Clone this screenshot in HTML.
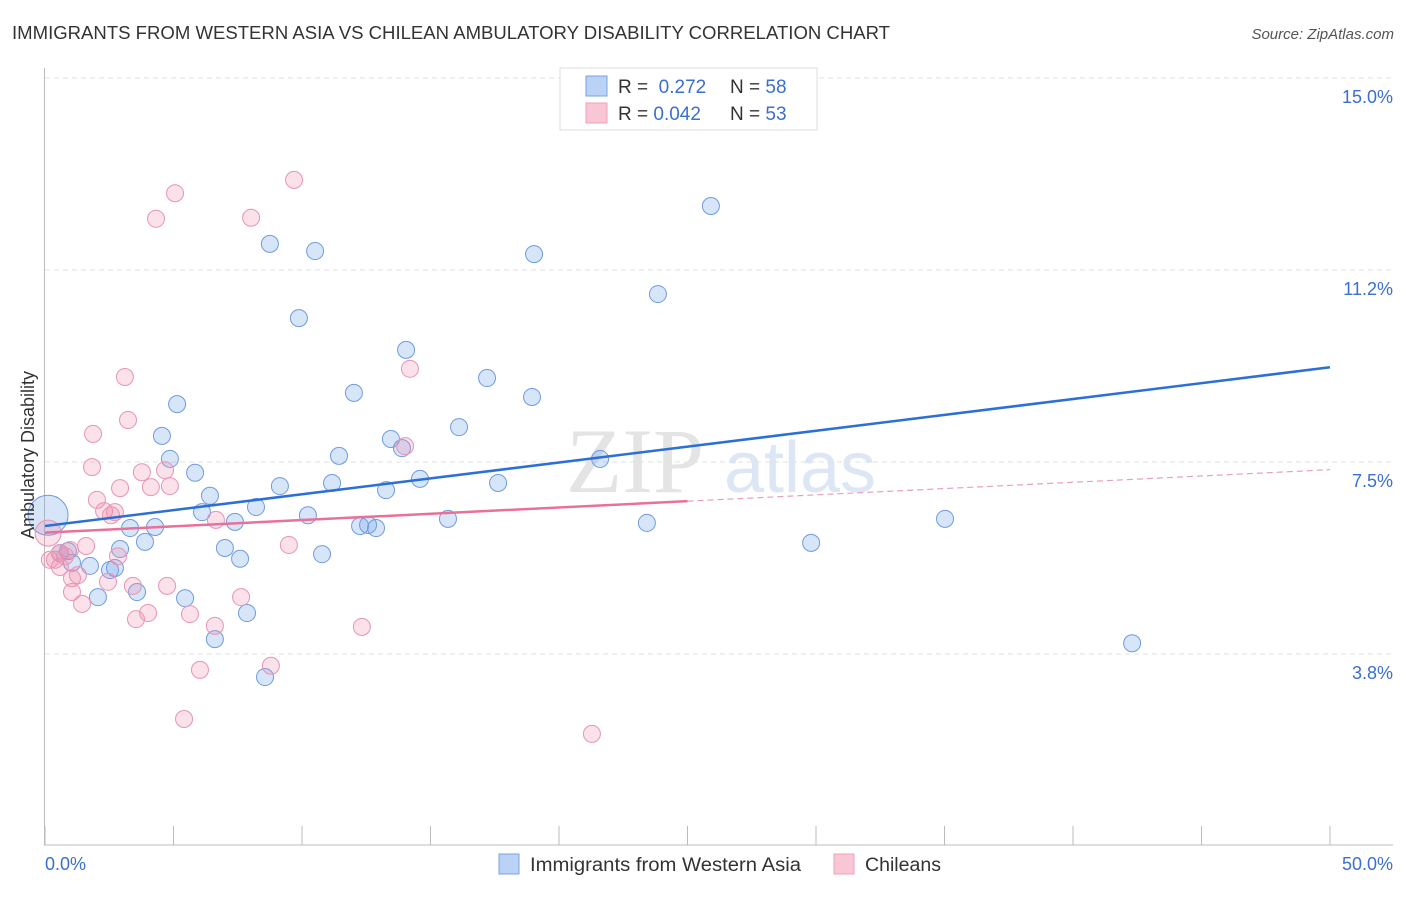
<!DOCTYPE html>
<html><head><meta charset="utf-8"><style>
body{margin:0;background:#fff;font-family:"Liberation Sans",sans-serif;}
</style></head><body>
<svg id="chart" width="1406" height="892" xmlns="http://www.w3.org/2000/svg">
<text x="12" y="39" font-size="18" fill="#333" textLength="878" lengthAdjust="spacingAndGlyphs">IMMIGRANTS FROM WESTERN ASIA VS CHILEAN AMBULATORY DISABILITY CORRELATION CHART</text>
<text x="1394" y="39" font-size="15" fill="#555" font-style="italic" text-anchor="end">Source: ZipAtlas.com</text>
<g>
<text x="635" y="492" font-size="92" fill="#e4e4e4" font-family="Liberation Serif,serif" text-anchor="middle">ZIP</text>
<text x="800" y="492" font-size="72" fill="#dce6f4" text-anchor="middle">atlas</text>
</g>
<g id="grid"></g><g id="axes"></g><g id="pts"></g><g id="lines"></g>
<text transform="translate(34,455) rotate(-90)" font-size="18" fill="#333" text-anchor="middle">Ambulatory Disability</text>
<text x="45" y="870" font-size="18" fill="#3a6fd0">0.0%</text>
<text x="1393" y="870" font-size="18" fill="#3a6fd0" text-anchor="end">50.0%</text>
<g>
<rect x="560" y="68" width="257" height="62" fill="#fff" stroke="#ddd"/>
<rect x="586" y="76" width="21" height="20" fill="#b9d2f5" stroke="#7aa3e3"/>
<rect x="586" y="103" width="21" height="20" fill="#f9c6d5" stroke="#eea0b9"/>
<text x="618" y="93" font-size="19" fill="#333">R = <tspan fill="#3a6fd0">&#160;0.272</tspan></text>
<text x="730" y="93" font-size="19" fill="#333">N = <tspan fill="#3a6fd0">58</tspan></text>
<text x="618" y="120" font-size="19" fill="#333">R = <tspan fill="#3a6fd0">0.042</tspan></text>
<text x="730" y="120" font-size="19" fill="#333">N = <tspan fill="#3a6fd0">53</tspan></text>
</g>
<g>
<rect x="499" y="854" width="20" height="20" fill="#b9d2f5" stroke="#7aa3e3"/>
<text x="530" y="871" font-size="19" fill="#333" textLength="271" lengthAdjust="spacingAndGlyphs">Immigrants from Western Asia</text>
<rect x="834" y="854" width="20" height="20" fill="#f9c6d5" stroke="#eea0b9"/>
<text x="865" y="871" font-size="19" fill="#333" textLength="76" lengthAdjust="spacingAndGlyphs">Chileans</text>
</g>
</svg>
<script>
const yTicks=[15,11.25,7.5,3.75];
const yTickLabels=["15.0%","11.2%","7.5%","3.8%"];
const xTicks=[0,5,10,15,20,25,30,35,40,45,50];
const blueX=[0.12,0.58,0.89,1.05,1.75,2.06,2.53,2.72,2.92,3.31,3.58,3.89,4.28,4.55,4.86,5.14,5.45,5.84,6.11,6.42,6.61,7.00,7.39,7.59,7.86,8.21,8.56,8.75,9.14,9.88,10.23,10.51,10.78,11.17,11.44,12.02,12.26,12.57,12.88,13.27,13.46,13.89,14.05,14.59,15.68,16.11,17.20,17.63,18.95,19.03,21.60,23.42,23.85,25.91,29.81,35.02,42.30];
const blueY=[6.46,5.72,5.76,5.53,5.47,4.86,5.39,5.43,5.80,6.21,4.96,5.94,6.23,8.01,7.56,8.63,4.84,7.29,6.52,6.84,4.04,5.82,6.33,5.61,4.55,6.62,3.30,11.76,7.03,10.31,6.46,11.62,5.70,7.09,7.62,8.85,6.25,6.27,6.21,6.95,7.95,7.77,9.69,7.17,6.39,8.18,9.14,7.09,8.77,11.56,7.56,6.31,10.78,12.50,5.92,6.39,3.96];
const pinkX=[0.12,0.39,0.58,0.78,1.05,1.28,1.05,1.44,1.60,1.83,2.02,2.30,2.45,2.57,2.72,2.84,2.92,3.11,3.23,3.42,3.54,3.77,4.01,4.12,4.32,4.67,4.75,4.86,5.06,5.41,5.64,6.03,6.61,6.65,7.63,8.02,8.79,9.49,9.69,12.33,14.01,14.20,21.28,1.87,0.58,0.97,0.19];
const pinkY=[6.11,5.59,5.45,5.66,5.23,5.29,4.96,4.73,5.86,7.40,6.76,6.54,5.16,6.46,6.52,5.66,6.99,9.16,8.32,5.08,4.43,7.30,4.55,7.01,12.25,7.34,5.08,7.03,12.75,2.48,4.53,3.44,4.30,6.37,4.86,12.27,3.52,5.88,13.01,4.28,7.81,9.32,2.19,8.05,5.72,5.78,5.59];
const blueTrend=[6.25,9.35];
const pinkTrend=[6.12,7.35];
const pinkSolidEnd=25;
const NS="http://www.w3.org/2000/svg";
const sx=v=>45+v*25.7, sy=v=>78+(15-v)*51.2;
function mk(tag,attrs,parent){const e=document.createElementNS(NS,tag);for(const k in attrs)e.setAttribute(k,attrs[k]);document.getElementById(parent).appendChild(e);return e;}
yTicks.forEach((t,i)=>{
 const l=mk('line',{x1:45,x2:1393,y1:sy(t),y2:sy(t),stroke:'#e2e2e2','stroke-dasharray':'5,4'},'grid');
 
 
 const tx=mk('text',{x:1393,y:sy(t)+25,'font-size':18,fill:'#3a6fd0','text-anchor':'end'},'grid');
 tx.textContent=yTickLabels[i];
 
 
});
const ya=mk('line',{x1:44.5,x2:44.5,y1:68,y2:845,stroke:'#bbb'},'axes');


const xa=mk('line',{x1:44,x2:1393,y1:845,y2:845,stroke:'#bbb'},'axes');


xTicks.forEach(t=>{const e=mk('line',{x1:sx(t),x2:sx(t),y1:826,y2:845,stroke:'#bbb'},'axes');
 
 });
function pts(X,Y,fill,stroke,name,big){X.forEach((x,i)=>{
 const c=mk('circle',{cx:sx(x),cy:sy(Y[i]),r:i===0?big:8.5,fill:fill,stroke:stroke,'stroke-width':1},'pts');
 
 });}
pts(blueX,blueY,'rgba(110,160,235,0.28)','#6f9be0','point-western-asia',20);
pts(pinkX,pinkY,'rgba(240,140,170,0.26)','#e994b1','point-chileans',13);
const bl=mk('line',{x1:sx(0),y1:sy(blueTrend[0]),x2:sx(50),y2:sy(blueTrend[1]),stroke:'#2c6fd6','stroke-width':2.5},'lines');


const pm=pinkTrend[0]+(pinkTrend[1]-pinkTrend[0])*pinkSolidEnd/50;
const pl=mk('line',{x1:sx(0),y1:sy(pinkTrend[0]),x2:sx(pinkSolidEnd),y2:sy(pm),stroke:'#e8709a','stroke-width':2.5},'lines');


const pd=mk('line',{x1:sx(pinkSolidEnd),y1:sy(pm),x2:sx(50),y2:sy(pinkTrend[1]),stroke:'#e8a0b8','stroke-width':1.2,'stroke-dasharray':'6,4'},'lines');


</script>
</body></html>
